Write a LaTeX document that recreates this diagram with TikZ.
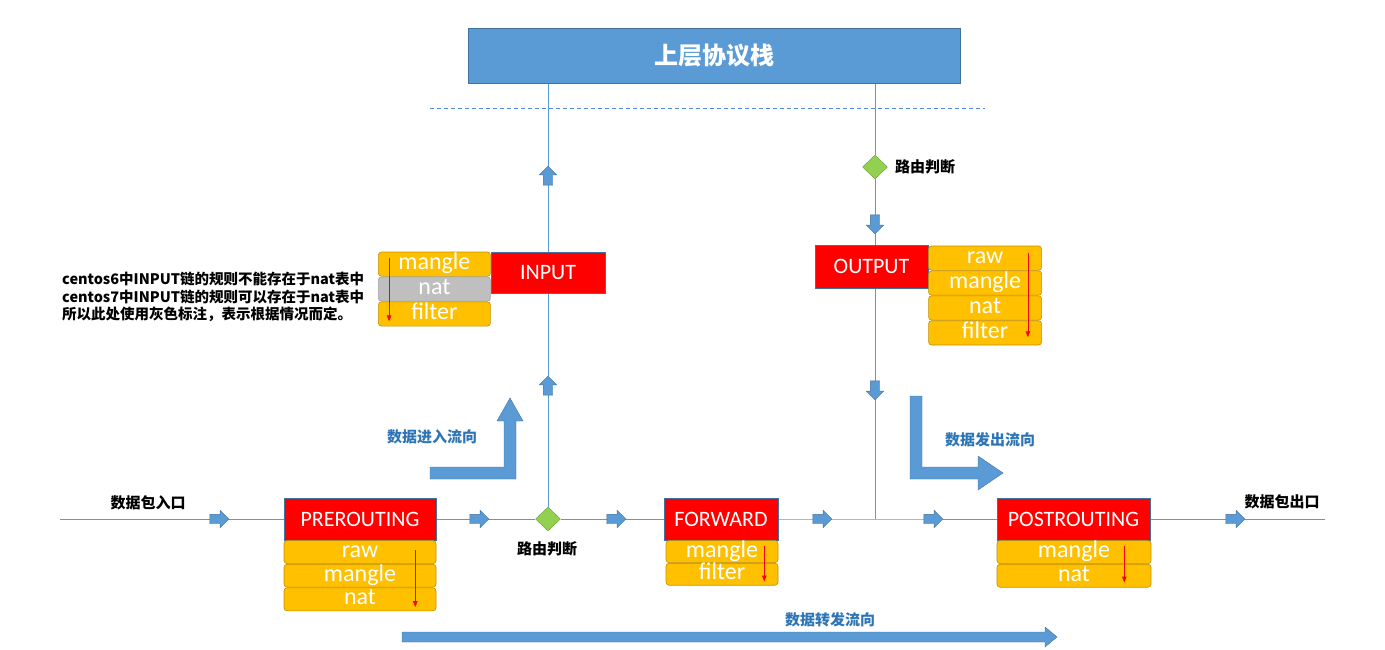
\documentclass[tikz,border=0pt]{standalone}
\usepackage{fontspec}
\setmainfont{Carlito}
\newfontfamily\cjk{Noto Sans CJK SC}
\usetikzlibrary{shapes.geometric,shapes.arrows,backgrounds,arrows.meta}
\definecolor{lineblue}{RGB}{91,155,213}
\definecolor{borderblue}{RGB}{65,113,156}
\definecolor{rowyellow}{RGB}{255,192,0}
\definecolor{rowborder}{RGB}{191,144,0}
\definecolor{labelblue}{RGB}{46,117,182}
\definecolor{diagreen}{RGB}{146,208,80}
\definecolor{rowgray}{RGB}{191,191,191}
\definecolor{graybord}{RGB}{160,160,160}
\begin{document}
\begin{tikzpicture}[x=1pt,y=-1pt,
  chainbox/.style={draw=borderblue, fill=red, text=white, font=\fontsize{22}{22}\selectfont, inner sep=0pt, line width=0.6pt},
  row/.style={draw=rowborder, fill=rowyellow, text=white, rounded corners=3pt, font=\fontsize{24}{24}\selectfont, inner sep=0pt, text height=15pt, text depth=4pt, line width=0.6pt},
  sarr/.style={single arrow, fill=lineblue, draw=borderblue, line width=0.4pt, minimum height=19pt, inner xsep=0pt, inner ysep=4.5pt, single arrow head extend=4pt},
  dia/.style={diamond, fill=diagreen, draw=diagreen!75!black, line width=0.4pt, minimum width=25pt, minimum height=24pt, inner sep=0pt},
  conn/.style={draw=lineblue, line width=0.9pt},
  redarr/.style={red, line width=0.8pt, -{Triangle[length=6pt,width=4.5pt]}},
  bigarr/.style={fill=lineblue, draw=borderblue, line width=0.4pt},
  lab/.style={font=\cjk\bfseries\fontsize{15}{15}\selectfont, inner sep=0pt},
  blab/.style={lab, text=labelblue}
]
\useasboundingbox (0,0) rectangle (1385,650);

% top box
\node[fill=lineblue, draw=borderblue, line width=0.6pt, minimum width=492pt, minimum height=55pt, inner sep=0pt, text=white, font=\cjk\bfseries\fontsize{24}{24}\selectfont] (top) at (714,55.5) {上层协议栈};
\draw[lineblue!90!blue, dash pattern=on 4pt off 3pt, line width=1pt] (430,109) -- (985,109);

% chains
\node[chainbox, minimum width=152pt, minimum height=42pt] (pre) at (360,519) {PREROUTING};
\node[row, minimum width=152pt, minimum height=23pt, anchor=north] (preraw) at (pre.south) {raw};
\node[row, minimum width=152pt, minimum height=23pt, anchor=north] (premangle) at (preraw.south) {mangle};
\node[row, minimum width=152pt, minimum height=23pt, anchor=north] (prenat) at (premangle.south) {nat};

\node[chainbox, minimum width=114pt, minimum height=42pt] (fwd) at (721,519) {FORWARD};
\node[row, minimum width=112pt, minimum height=22pt, anchor=north east] (fwdmangle) at (fwd.south east) {mangle};
\node[row, minimum width=112pt, minimum height=22pt, anchor=north] (fwdfilter) at (fwdmangle.south) {filter};

\node[chainbox, minimum width=153pt, minimum height=42pt] (post) at (1073.5,519) {POSTROUTING};
\node[row, minimum width=154pt, minimum height=23pt, anchor=north west] (postmangle) at (post.south west) {mangle};
\node[row, minimum width=154pt, minimum height=23pt, anchor=north] (postnat) at (postmangle.south) {nat};

\node[chainbox, minimum width=114pt, minimum height=41pt] (input) at (548,272.5) {INPUT};
\node[row, minimum width=112pt, minimum height=24.3pt, anchor=north east] (inmangle) at (input.north west) {mangle};
\node[row, fill=rowgray, draw=graybord, minimum width=112pt, minimum height=24.3pt, anchor=north] (innat) at (inmangle.south) {nat};
\node[row, minimum width=112pt, minimum height=24.3pt, anchor=north] (infilter) at (innat.south) {filter};

\node[chainbox, minimum width=113pt, minimum height=43pt] (output) at (871.5,266.5) {OUTPUT};
\node[row, minimum width=113pt, minimum height=24.3pt, anchor=north west] (outraw) at ([yshift=-1pt]output.north east) {raw};
\node[row, minimum width=113pt, minimum height=24.3pt, anchor=north] (outmangle) at (outraw.south) {mangle};
\node[row, minimum width=113pt, minimum height=24.3pt, anchor=north] (outnat) at (outmangle.south) {nat};
\node[row, minimum width=113pt, minimum height=24.3pt, anchor=north] (outfilter) at (outnat.south) {filter};

% red arrows within tables
\draw[redarr] ([xshift=-21pt,yshift=-10pt]preraw.north east) -- ([xshift=-21pt,yshift=4pt]prenat.south east);
\draw[redarr] ([xshift=-14pt,yshift=-6pt]fwdmangle.north east) -- ([xshift=-14pt,yshift=4pt]fwdfilter.south east);
\draw[redarr] ([xshift=-27pt,yshift=-6pt]postmangle.north east) -- ([xshift=-27pt,yshift=5pt]postnat.south east);
\draw[redarr] ([xshift=11pt,yshift=-6pt]inmangle.north west) -- ([xshift=11pt,yshift=5pt]infilter.south west);
\draw[redarr] ([xshift=-14pt,yshift=-7pt]outraw.north east) -- ([xshift=-14pt,yshift=8pt]outfilter.south east);

% diamonds
\node[dia] (ld) at (548,519) {};
\node[dia] (rd) at (875,167) {};
\coordinate (junc) at (875,519);
\coordinate (in) at (60,519);
\coordinate (out) at (1325,519);

% connectors
\begin{scope}[on background layer]
\draw[conn] (in) -- (pre.west);
\draw[conn] (pre.east) -- (ld.west);
\draw[conn] (ld.east) -- (fwd.west);
\draw[conn] (fwd.east) -- (junc) -- (post.west);
\draw[conn] (post.east) -- (out);
\draw[conn] (ld.north) -- (input.south);
\draw[conn] (input.north) -- (top.south -| input.north);
\draw[conn] (top.south -| rd) -- (rd.north);
\draw[conn] (rd.south) -- (rd |- output.north);
\draw[conn] (rd |- output.south) -- (junc);
\end{scope}

% small flow arrows
\node[sarr] (a1) at (217,519) {};
\node[sarr] (a2) at (477,519) {};
\node[sarr] (a3) at (614,519) {};
\node[sarr] (a4) at (820,519) {};
\node[sarr] (a5) at (931,519) {};
\node[sarr] (a6) at (1233,519) {};
\node[sarr, rotate=90] (u1) at (548,178) {};
\node[sarr, rotate=90] (u2) at (548,388) {};
\node[sarr, rotate=-90] (d1) at (875,222) {};
\node[sarr, rotate=-90] (d2) at (875,388) {};

% big flow arrows
\filldraw[bigarr] (430,467) -- (504,467) -- (504,421) -- (497,421) -- (510,398) -- (523,421) -- (516,421) -- (516,479) -- (430,479) -- cycle;
\filldraw[bigarr] (910,396) -- (922,396) -- (922,467) -- (978,467) -- (978,456) -- (1003,473) -- (978,490) -- (978,479) -- (910,479) -- cycle;
\filldraw[bigarr] (402,632) -- (1045,632) -- (1045,627) -- (1057,637) -- (1045,647) -- (1045,642) -- (402,642) -- cycle;

% labels
\node[lab] (lin) at (148,503) {数据包入口};
\node[lab] (lout) at (1282,502) {数据包出口};
\node[lab] (lld) at (547,549) {路由判断};
\node[lab, anchor=west] (lrd) at (895,167) {路由判断};
\node[blab] (lenter) at (432,437) {数据进入流向};
\node[blab] (lsend) at (990,440) {数据发出流向};
\node[blab] (lfwd) at (830,620) {数据转发流向};
\node[font=\cjk\bfseries\fontsize{14.5}{17.5}\selectfont, align=left, anchor=west, inner sep=0pt] (note) at (62,297) {centos6中INPUT链的规则不能存在于nat表中\\centos7中INPUT链的规则可以存在于nat表中\\所以此处使用灰色标注，表示根据情况而定。};
\end{tikzpicture}
\end{document}
